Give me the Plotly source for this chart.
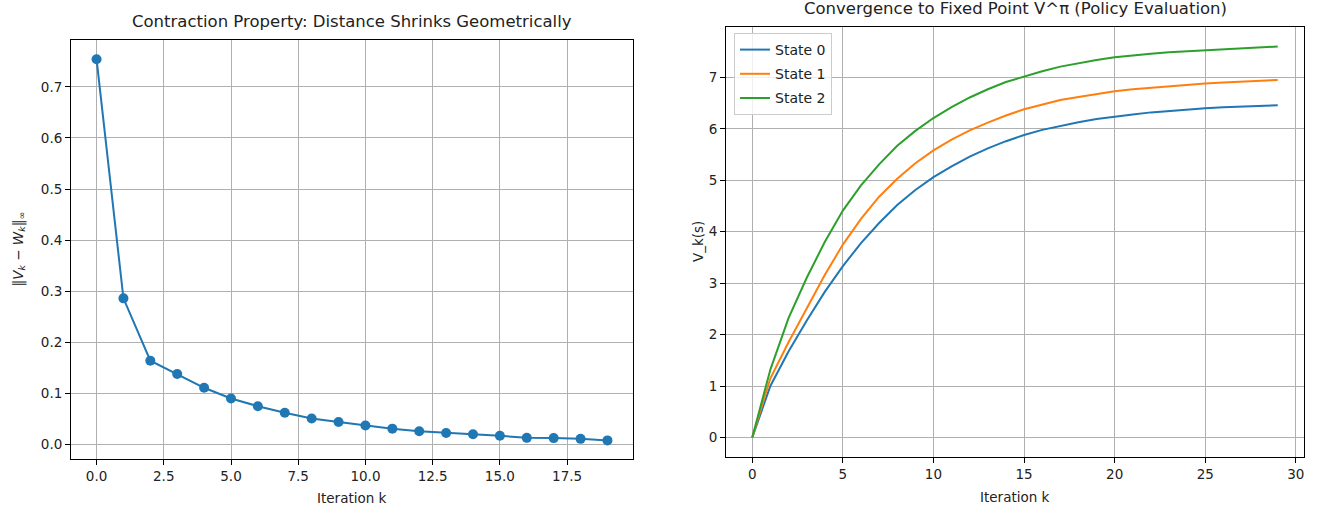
import plotly.graph_objects as go

# ---- data ----
iterations_dist = list(range(20))
sup_distance = [0.754, 0.286, 0.164, 0.138, 0.111, 0.090, 0.075, 0.062, 0.051, 0.044,
                0.037, 0.031, 0.026, 0.0225, 0.020, 0.017, 0.013, 0.0125, 0.011, 0.008]

iterations_v = list(range(30))
state0 = [0.00, 1.00, 1.67, 2.27, 2.83, 3.33, 3.78, 4.17, 4.52, 4.81,
          5.06, 5.27, 5.46, 5.62, 5.76, 5.88, 5.98, 6.06, 6.13, 6.19,
          6.24, 6.28, 6.32, 6.35, 6.38, 6.40, 6.42, 6.43, 6.45, 6.46]
state1 = [0.00, 1.15, 1.85, 2.52, 3.16, 3.75, 4.25, 4.68, 5.03, 5.33,
          5.58, 5.79, 5.97, 6.12, 6.26, 6.38, 6.47, 6.56, 6.62, 6.68,
          6.73, 6.77, 6.80, 6.83, 6.86, 6.88, 6.90, 6.92, 6.93, 6.95]
state2 = [0.00, 1.32, 2.32, 3.10, 3.80, 4.41, 4.90, 5.31, 5.67, 5.96,
          6.21, 6.42, 6.61, 6.77, 6.91, 7.02, 7.12, 7.21, 7.28, 7.34,
          7.39, 7.43, 7.46, 7.49, 7.51, 7.53, 7.55, 7.57, 7.58, 7.60]
state_names = ["State 0", "State 1", "State 2"]
state_colors = ["#1f77b4", "#ff7f0e", "#2ca02c"]

W, H = 1317, 511
FONT = "DejaVu Sans"

# axes boxes in pixels (left, top, right, bottom)
L_BOX = (71, 40, 633, 459)
R_BOX = (726, 27, 1304, 457)


def xdom(b):
    return [b[0] / W, b[2] / W]


def ydom(b):
    return [(H - b[3]) / H, (H - b[1]) / H]


fig = go.Figure()

fig.add_trace(go.Scatter(
    x=iterations_dist, y=sup_distance, mode="lines+markers",
    line=dict(color="#1f77b4", width=2),
    marker=dict(color="#1f77b4", size=10),
    xaxis="x", yaxis="y", showlegend=False,
))

for name, col, vals in zip(state_names, state_colors, [state0, state1, state2]):
    fig.add_trace(go.Scatter(
        x=iterations_v, y=vals, mode="lines", name=name, legendgroup=name,
        line=dict(color=col, width=2),
        xaxis="x2", yaxis="y2",
    ))

axis_common = dict(
    showline=True, linecolor="black", linewidth=1, mirror=True,
    ticks="outside", ticklen=5, tickwidth=1, tickcolor="black",
    showgrid=True, gridcolor="#b0b0b0", gridwidth=1,
    zeroline=False, tickfont=dict(family=FONT, size=13.5, color="#222"),
)

fig.update_layout(
    width=W, height=H,
    margin=dict(l=0, r=0, t=0, b=0),
    paper_bgcolor="white", plot_bgcolor="white",
    font=dict(family=FONT, color="#222"),
    xaxis=dict(domain=xdom(L_BOX), range=[-0.95, 19.95], dtick=2.5, tick0=0,
               tickformat=".1f", anchor="y", **axis_common),
    yaxis=dict(domain=ydom(L_BOX), range=[-0.0284, 0.7916], dtick=0.1, tick0=0,
               tickformat=".1f", anchor="x", **axis_common),
    xaxis2=dict(domain=xdom(R_BOX), range=[-1.45, 30.45], dtick=5, tick0=0,
                anchor="y2", **axis_common),
    yaxis2=dict(domain=ydom(R_BOX), range=[-0.38, 7.98], dtick=1, tick0=0,
                anchor="x2", **axis_common),
    legend=dict(
        x=(R_BOX[0] + 8) / W, y=(H - R_BOX[1] - 6) / H,
        xanchor="left", yanchor="top",
        bgcolor="rgba(255,255,255,0.8)", bordercolor="#cccccc", borderwidth=1,
        font=dict(family=FONT, size=14, color="#222"),
        tracegroupgap=3, itemwidth=30,
    ),
)


def label(text, x, y, size, angle=0, xanchor="center", yanchor="middle"):
    fig.add_annotation(
        text=text, x=x / W, y=(H - y) / H, xref="paper", yref="paper",
        showarrow=False, textangle=angle, xanchor=xanchor, yanchor=yanchor,
        font=dict(family=FONT, size=size, color="#222"),
    )


# titles
label("Contraction Property: Distance Shrinks Geometrically",
      (L_BOX[0] + L_BOX[2]) / 2, L_BOX[1] - 7, 16.5, yanchor="bottom")
label("Convergence to Fixed Point V^π (Policy Evaluation)",
      (R_BOX[0] + R_BOX[2]) / 2, R_BOX[1] - 7, 16.5, yanchor="bottom")

# axis titles
label("Iteration k", (L_BOX[0] + L_BOX[2]) / 2, 498, 13.5)
label("Iteration k", (R_BOX[0] + R_BOX[2]) / 2, 497, 13.5)
label("‖<i>V<sub>k</sub></i> − <i>W<sub>k</sub></i>‖<sub>∞</sub>",
      18, (L_BOX[1] + L_BOX[3]) / 2, 13.5, angle=-90)
label("V_k(s)", 698, (R_BOX[1] + R_BOX[3]) / 2, 13.5, angle=-90)

fig.write_html("out.html")
